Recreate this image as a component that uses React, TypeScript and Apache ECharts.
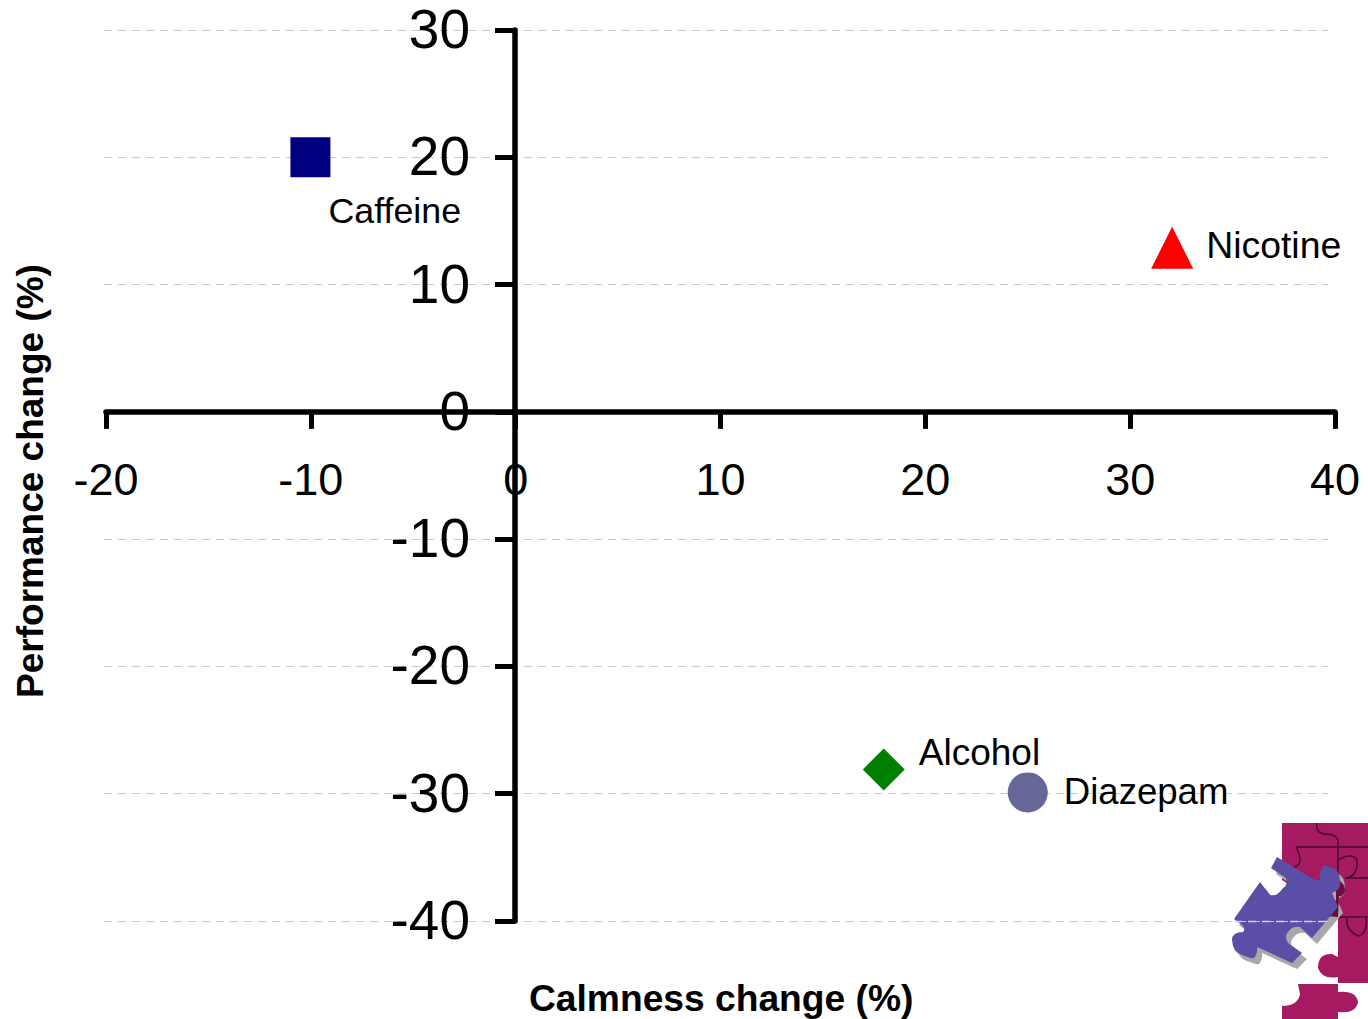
import React, { useEffect, useRef } from "react";
import * as echarts from "echarts";

const drugNames = ["Caffeine", "Nicotine", "Alcohol", "Diazepam"];
const calmness = [-10.02, 32.05, 17.97, 25];
const performance = [20, 12.9, -28.1, -29.9];
const symbols = ["rect", "triangle", "diamond", "circle"];
const symbolSizes = [40, 42, 42, 40];
const colors = ["#000080", "#ff0000", "#008000", "#666699"];
const labelOffsets = [[-7, 53.5], [8, -3], [9, -17], [11, -1]];
const labelFontSizes = [35.8, 37.4, 37, 36.6];
const xTitle = "Calmness change (%)";
const yTitle = "Performance change (%)";

const purple =
  "M1277 857 L1271 868 L1286 878 Q1288 886 1283 888 Q1277 897 1270 895 L1260 882 L1234 919 L1242 925 Q1246 929 1243 932 Q1232 932 1232 940 Q1233 953 1242 955 Q1254 960 1255 957 Q1258 952 1257 947 L1292 963 L1302 953 L1288 943 Q1284 936 1288 932 Q1292 926 1300 927 L1312 938 L1338 907 L1332 893 Q1341 890 1340 883 Q1340 870 1333 868 Q1322 863 1322 868 Q1319 874 1320 880 L1315 880 Z";
const magentaTop =
  "M1282 823 L1368 823 L1368 983 L1338 983 L1338 977 Q1322 980 1318 968 Q1318 953 1332 954 L1338 957 L1338 917 L1320 905 L1282 880 Z";
const magentaBottom =
  "M1298 984 L1338 984 L1338 992 Q1356 990 1358 1002 Q1356 1014 1338 1012 L1338 1019 L1282 1019 L1282 1006 Q1298 1006 1300 994 Z";
const puzzleLines =
  "M1317 823 Q1315 832 1324 834 Q1338 834 1338 842 L1338 880 M1296 847 L1368 847 M1296 847 Q1302 858 1299 864 Q1295 868 1291 868 M1338 860 Q1352 852 1357 860 Q1358 877 1345 878 L1368 878 M1338 917 L1368 917 M1347 917 Q1345 930 1358 936 Q1368 934 1366 917";
const darkPatch = "M1336 878 Q1346 884 1345 892 Q1342 897 1339 896 L1338 917 L1326 916 L1336 900 Z";
const overlayDashes =
  "M1234 921.5 H1242 M1248 921.5 H1256 M1262 921.5 H1270 M1276 921.5 H1284 M1290 921.5 H1298 M1304 921.5 H1312 M1318 921.5 H1326";

echarts.graphic.registerShape("puzzlePurple", echarts.graphic.extendPath(purple, {}));
echarts.graphic.registerShape("puzzleTop", echarts.graphic.extendPath(magentaTop, {}));
echarts.graphic.registerShape("puzzleBottom", echarts.graphic.extendPath(magentaBottom, {}));
echarts.graphic.registerShape("puzzleLines", echarts.graphic.extendPath(puzzleLines, {}));
echarts.graphic.registerShape("puzzleDark", echarts.graphic.extendPath(darkPatch, {}));
echarts.graphic.registerShape("puzzleDashes", echarts.graphic.extendPath(overlayDashes, {}));

const FONT = "'Liberation Sans', Arial, sans-serif";

export default function App() {
  const ref = useRef<HTMLDivElement>(null);
  useEffect(() => {
    const chart = echarts.init(ref.current!, null, { renderer: "svg" });
    chart.setOption({
      animation: false,
      backgroundColor: "#ffffff",
      grid: [
        { left: 106, top: 30, width: 1229, height: 891 },
        { left: 104, top: 30, width: 1224, height: 891 },
      ],
      xAxis: [
        {
          type: "value",
          min: -20,
          max: 40,
          interval: 10,
          gridIndex: 0,
          z: 5,
          position: "bottom",
          offset: -509.14,
          axisLine: { onZero: false, lineStyle: { color: "#000", width: 5.5 } },
          axisTick: { show: true, length: 17, inside: false, lineStyle: { color: "#000", width: 5 } },
          axisLabel: { color: "#000", fontSize: 45, fontFamily: FONT, margin: 45 },
          splitLine: { show: false },
        },
        { type: "value", min: -20, max: 40, gridIndex: 1, show: false },
      ],
      yAxis: [
        {
          type: "value",
          min: -40,
          max: 30,
          interval: 10,
          gridIndex: 0,
          z: 5,
          position: "left",
          offset: -409,
          axisLine: { onZero: false, lineStyle: { color: "#000", width: 5.5 } },
          axisTick: { show: true, length: 20, lineStyle: { color: "#000", width: 5 } },
          axisLabel: {
            fontFamily: FONT,
            margin: 45,
            formatter: "{a|{value}}",
            rich: {
              a: { color: "#000", fontSize: 55, lineHeight: 48, fontFamily: FONT, padding: [0, 0, 2, 0] },
            },
          },
          splitLine: { show: false },
        },
        {
          type: "value",
          min: -40,
          max: 30,
          interval: 10,
          gridIndex: 1,
          z: 4,
          axisLine: { show: false },
          axisTick: { show: false },
          axisLabel: { show: false },
          splitLine: { show: true, lineStyle: { color: "#c8c8c8", width: 1, type: [8, 6] } },
        },
      ],
      graphic: [
        { type: "puzzleTop", z: 1, style: { fill: "#a51a60" } },
        { type: "puzzleBottom", z: 1, style: { fill: "#a51a60" } },
        { type: "puzzleLines", z: 1, style: { fill: "none", stroke: "#4a0a2c", lineWidth: 1.5 } },
        { type: "puzzlePurple", z: 1, x: 5, y: 6, style: { fill: "#a8a8a8" } },
        { type: "puzzleDark", z: 1, style: { fill: "#6e0a3c" } },
        { type: "puzzlePurple", z: 1, style: { fill: "#5a4ea6" } },
        { type: "puzzleDashes", z: 10, style: { fill: "none", stroke: "#d4d4dc", lineWidth: 1.5 } },
        {
          type: "text",
          z: 6,
          left: 529,
          top: 979,
          style: { text: xTitle, fill: "#000", font: `bold 37.2px ${FONT}` },
        },
        {
          type: "text",
          z: 6,
          x: 30,
          y: 481,
          rotation: Math.PI / 2,
          style: {
            text: yTitle,
            fill: "#000",
            font: `bold 37px ${FONT}`,
            align: "center",
            verticalAlign: "middle",
          },
        },
      ],
      series: drugNames.map((name, i) => ({
        type: "scatter",
        name,
        xAxisIndex: 0,
        yAxisIndex: 0,
        z: 6,
        data: [[calmness[i], performance[i]]],
        symbol: symbols[i],
        symbolSize: symbolSizes[i],
        itemStyle: { color: colors[i], opacity: 1 },
        label: {
          show: true,
          position: "right",
          offset: labelOffsets[i],
          formatter: name,
          color: "#000",
          fontSize: labelFontSizes[i],
          fontFamily: FONT,
        },
      })),
    });
    return () => chart.dispose();
  }, []);
  return (
    <div
      ref={ref}
      style={{ position: "fixed", left: 0, top: 0, width: 1368, height: 1019 }}
    />
  );
}
